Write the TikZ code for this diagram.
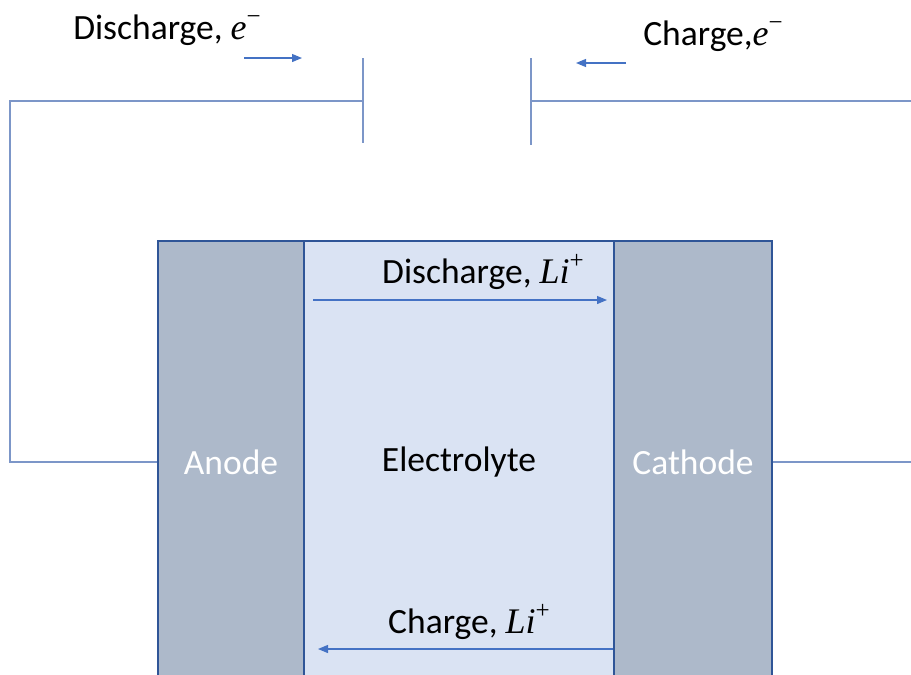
\documentclass[tikz,border=0pt]{standalone}
\usepackage{fontspec}
\setmainfont{Carlito}
\newfontfamily\serifsym{Liberation Serif}
\usetikzlibrary{arrows.meta,positioning}
\definecolor{cellborder}{RGB}{47,85,151}
\definecolor{electrodefill}{RGB}{173,185,202}
\definecolor{electrolytefill}{RGB}{218,227,243}
\definecolor{wireblue}{RGB}{124,150,200}
\definecolor{flowblue}{RGB}{68,114,196}
\newcommand{\carrier}[2]{{\serifsym\itshape\fontsize{36}{40}\selectfont #1}%
  \raisebox{0.42em}{\serifsym\fontsize{25}{25}\selectfont #2}}
\tikzset{
  layer/.style={draw=cellborder,line width=1.6pt,minimum height=442pt,inner sep=0pt,
    font=\fontsize{35.5}{40}\selectfont},
  electrode/.style={layer,fill=electrodefill,text=white},
  electrolytebox/.style={layer,fill=electrolytefill,text=black},
  wire/.style={draw=wireblue,line width=1.2pt},
  flow/.style={-{Triangle[length=10pt,width=8pt]},draw=flowblue,line width=1.2pt},
  flowlabel/.style={font=\fontsize{35.5}{40}\selectfont,inner sep=0pt}
}

\begin{document}
\begin{tikzpicture}[x=1pt,y=-1pt]
  \useasboundingbox (0,0) rectangle (911,675);
  \clip (0,0) rectangle (911,675);
  % cell
  \node[electrolytebox,minimum width=310pt] (electrolyte) at (459,462) {Electrolyte};
  \node[electrode,minimum width=146pt] (anode) at (231,462) {Anode};
  \node[electrode,minimum width=158pt] (cathode) at (693,462) {Cathode};
  % plates and external circuit
  \coordinate (plateLtop) at (363,58);
  \coordinate (plateLbot) at (363,143);
  \coordinate (plateRtop) at (531,58);
  \coordinate (plateRbot) at (531,145);
  \coordinate (leftturn) at (10,101);
  \coordinate (rightend) at (912,101);
  \draw[wire] (plateLtop) -- (plateLbot);
  \draw[wire] (plateRtop) -- (plateRbot);
  \draw[wire] (anode.west) -| (leftturn) -- (plateLtop |- leftturn);
  \draw[wire] (plateRtop |- rightend) -- (rightend);
  \draw[wire] (cathode.east) -- (cathode.east -| rightend);
  % electron flow
  \node[flowlabel] (diselectron) at (167,30) {Discharge, \carrier{e}{−}};
  \node[flowlabel] (chelectron) at (713,36) {Charge,\carrier{e}{−}};
  \coordinate (diseA) at (244,58);
  \coordinate (diseB) at (302,58);
  \coordinate (cheA) at (626,63);
  \coordinate (cheB) at (576,63);
  \draw[flow] (diseA) -- (diseB);
  \draw[flow] (cheA) -- (cheB);
  % ion flow
  \node[flowlabel] (dision) at (483,272) {Discharge, \carrier{Li}{+}};
  \node[flowlabel] (chion) at (469,622) {Charge, \carrier{Li}{+}};
  \coordinate (disA) at (313,300);
  \coordinate (disB) at (607,300);
  \coordinate (chA) at (613,649);
  \coordinate (chB) at (318,649);
  \draw[flow] (disA) -- (disB);
  \draw[flow] (chA) -- (chB);
\end{tikzpicture}
\end{document}
